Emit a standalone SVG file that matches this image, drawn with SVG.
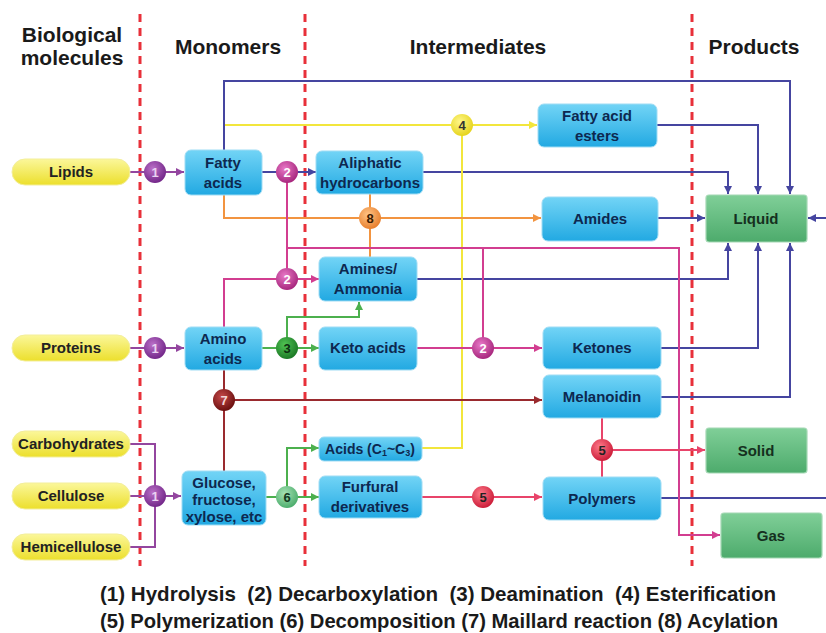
<svg xmlns="http://www.w3.org/2000/svg" width="826" height="633" viewBox="0 0 826 633">
<style>
.hdr{font-family:"Liberation Sans",Arial,sans-serif;font-weight:bold;font-size:21px;fill:#1a1a1a;text-anchor:middle}
.bt{font-family:"Liberation Sans",Arial,sans-serif;font-weight:bold;font-size:15px;fill:#0d2850;text-anchor:middle}
.pt{font-family:"Liberation Sans",Arial,sans-serif;font-weight:bold;font-size:15px;fill:#222;text-anchor:middle}
.gt{font-family:"Liberation Sans",Arial,sans-serif;font-weight:bold;font-size:15px;fill:#15301e;text-anchor:middle}
.ct{font-family:"Liberation Sans",Arial,sans-serif;font-weight:bold;font-size:13px;text-anchor:middle}
.leg{font-family:"Liberation Sans Narrow","Liberation Sans",Arial,sans-serif;font-weight:bold;font-size:21px;fill:#1a1a1a}
.box{fill:url(#gBlue);stroke:#9fdcf4;stroke-width:1}
.pill{fill:url(#gYel);stroke:#f3ee9a;stroke-width:1}
.gbox{fill:url(#gGrn);stroke:#a4d8b4;stroke-width:1.2}
.dash{stroke:#e8303a;stroke-width:3;stroke-dasharray:8,6;fill:none}
.ln{fill:none;stroke-width:2}
.pu{stroke:#93469f}.bl{stroke:#4545a0}.ye{stroke:#f2e63c}.or{stroke:#f29440}.pk{stroke:#d23e90}.gr{stroke:#4cb04e}.ma{stroke:#9a2a2e}.rd{stroke:#e8446a}
</style>
<defs>
<linearGradient id="gBlue" x1="0" y1="0" x2="0" y2="1"><stop offset="0" stop-color="#72d4f6"/><stop offset="1" stop-color="#22a9e2"/></linearGradient>
<linearGradient id="gYel" x1="0" y1="0" x2="0" y2="1"><stop offset="0" stop-color="#fbf79a"/><stop offset="1" stop-color="#ecdf2c"/></linearGradient>
<linearGradient id="gGrn" x1="0" y1="0" x2="0" y2="1"><stop offset="0" stop-color="#80cf98"/><stop offset="1" stop-color="#4dab6c"/></linearGradient>
<radialGradient id="c1" cx="0.4" cy="0.35" r="0.65"><stop offset="0" stop-color="#bb70c8"/><stop offset="1" stop-color="#74288a"/></radialGradient>
<radialGradient id="c2" cx="0.4" cy="0.35" r="0.65"><stop offset="0" stop-color="#e878c6"/><stop offset="1" stop-color="#a8287e"/></radialGradient>
<radialGradient id="c3" cx="0.4" cy="0.35" r="0.65"><stop offset="0" stop-color="#50c454"/><stop offset="1" stop-color="#1c7a26"/></radialGradient>
<radialGradient id="c4" cx="0.4" cy="0.35" r="0.65"><stop offset="0" stop-color="#fff78a"/><stop offset="1" stop-color="#e6d41e"/></radialGradient>
<radialGradient id="c5" cx="0.4" cy="0.35" r="0.65"><stop offset="0" stop-color="#ff7a8a"/><stop offset="1" stop-color="#cc1e3a"/></radialGradient>
<radialGradient id="c6" cx="0.4" cy="0.35" r="0.65"><stop offset="0" stop-color="#a6e2b4"/><stop offset="1" stop-color="#4eae6e"/></radialGradient>
<radialGradient id="c7" cx="0.4" cy="0.35" r="0.65"><stop offset="0" stop-color="#c44848"/><stop offset="1" stop-color="#6c1010"/></radialGradient>
<radialGradient id="c8" cx="0.4" cy="0.35" r="0.65"><stop offset="0" stop-color="#ffc486"/><stop offset="1" stop-color="#e8802e"/></radialGradient>
<marker id="aPu" viewBox="0 0 8 8" refX="8" refY="4" markerWidth="8" markerHeight="8" markerUnits="userSpaceOnUse" orient="auto"><path d="M0,0L8,4L0,8z" fill="#93469f"/></marker>
<marker id="aBl" viewBox="0 0 8 8" refX="8" refY="4" markerWidth="8" markerHeight="8" markerUnits="userSpaceOnUse" orient="auto"><path d="M0,0L8,4L0,8z" fill="#4545a0"/></marker>
<marker id="aYe" viewBox="0 0 8 8" refX="8" refY="4" markerWidth="8" markerHeight="8" markerUnits="userSpaceOnUse" orient="auto"><path d="M0,0L8,4L0,8z" fill="#f2e63c"/></marker>
<marker id="aOr" viewBox="0 0 8 8" refX="8" refY="4" markerWidth="8" markerHeight="8" markerUnits="userSpaceOnUse" orient="auto"><path d="M0,0L8,4L0,8z" fill="#f29440"/></marker>
<marker id="aPk" viewBox="0 0 8 8" refX="8" refY="4" markerWidth="8" markerHeight="8" markerUnits="userSpaceOnUse" orient="auto"><path d="M0,0L8,4L0,8z" fill="#d23e90"/></marker>
<marker id="aGr" viewBox="0 0 8 8" refX="8" refY="4" markerWidth="8" markerHeight="8" markerUnits="userSpaceOnUse" orient="auto"><path d="M0,0L8,4L0,8z" fill="#4cb04e"/></marker>
<marker id="aMa" viewBox="0 0 8 8" refX="8" refY="4" markerWidth="8" markerHeight="8" markerUnits="userSpaceOnUse" orient="auto"><path d="M0,0L8,4L0,8z" fill="#9a2a2e"/></marker>
<marker id="aRd" viewBox="0 0 8 8" refX="8" refY="4" markerWidth="8" markerHeight="8" markerUnits="userSpaceOnUse" orient="auto"><path d="M0,0L8,4L0,8z" fill="#e8446a"/></marker>
</defs>
<rect width="826" height="633" fill="#ffffff"/>

<g id="headers">
<text class="hdr" x="72" y="42">Biological</text>
<text class="hdr" x="72" y="65">molecules</text>
<text class="hdr" x="228" y="54">Monomers</text>
<text class="hdr" x="478" y="54">Intermediates</text>
<text class="hdr" x="754" y="54">Products</text>
</g>

<g id="dividers">
<line class="dash" x1="140" y1="14" x2="140" y2="566"/>
<line class="dash" x1="305" y1="14" x2="305" y2="566"/>
<line class="dash" x1="692" y1="14" x2="692" y2="566"/>
</g>

<g id="connectors">
<path class="ln pu" d="M130,172H184" marker-end="url(#aPu)"/>
<path class="ln pu" d="M130,348H184" marker-end="url(#aPu)"/>
<path class="ln pu" d="M130,496H181" marker-end="url(#aPu)"/>
<path class="ln pu" d="M130,444H155V547H130"/>
<path class="ln bl" d="M262,172H316" marker-end="url(#aBl)"/>
<path class="ln bl" d="M224,150V81H790V194" marker-end="url(#aBl)"/>
<path class="ln bl" d="M422,172H728V194" marker-end="url(#aBl)"/>
<path class="ln bl" d="M657,125H758V194" marker-end="url(#aBl)"/>
<path class="ln bl" d="M658,218H705" marker-end="url(#aBl)"/>
<path class="ln bl" d="M417,279H728V243" marker-end="url(#aBl)"/>
<path class="ln bl" d="M661,348H758V243" marker-end="url(#aBl)"/>
<path class="ln bl" d="M661,397H790V243" marker-end="url(#aBl)"/>
<path class="ln bl" d="M661,498H826"/>
<path class="ln bl" d="M826,218H808" marker-end="url(#aBl)"/>
<path class="ln ye" d="M225,125H537" marker-end="url(#aYe)"/>
<path class="ln ye" d="M422,448H462V125"/>
<path class="ln or" d="M224,195V218H541" marker-end="url(#aOr)"/>
<path class="ln or" d="M370,194V257"/>
<path class="ln pk" d="M287,172V279"/>
<path class="ln pk" d="M287,248H679V535H720" marker-end="url(#aPk)"/>
<path class="ln pk" d="M483,248V348"/>
<path class="ln pk" d="M224,327V279H319" marker-end="url(#aPk)"/>
<path class="ln pk" d="M417,348H542" marker-end="url(#aPk)"/>
<path class="ln gr" d="M262,348H319" marker-end="url(#aGr)"/>
<path class="ln gr" d="M287,348V317H359V302" marker-end="url(#aGr)"/>
<path class="ln gr" d="M265,497H319" marker-end="url(#aGr)"/>
<path class="ln gr" d="M287,497V448H319" marker-end="url(#aGr)"/>
<path class="ln ma" d="M224,370V471"/>
<path class="ln ma" d="M224,400H542" marker-end="url(#aMa)"/>
<path class="ln rd" d="M422,497H542" marker-end="url(#aRd)"/>
<path class="ln rd" d="M602,418V477"/>
<path class="ln rd" d="M602,450H705" marker-end="url(#aRd)"/>
</g>

<g id="lipids"><rect class="pill" x="12" y="159" width="118" height="26" rx="13"/><text class="pt" x="71" y="177">Lipids</text></g>
<g id="proteins"><rect class="pill" x="12" y="335" width="118" height="26" rx="13"/><text class="pt" x="71" y="353">Proteins</text></g>
<g id="carbohydrates"><rect class="pill" x="12" y="431" width="118" height="26" rx="13"/><text class="pt" x="71" y="449">Carbohydrates</text></g>
<g id="cellulose"><rect class="pill" x="12" y="483" width="118" height="26" rx="13"/><text class="pt" x="71" y="501">Cellulose</text></g>
<g id="hemicellulose"><rect class="pill" x="12" y="534" width="118" height="26" rx="13"/><text class="pt" x="71" y="552">Hemicellulose</text></g>

<g id="fatty-acids"><rect class="box" x="185" y="150" width="77" height="45" rx="6"/><text class="bt" x="223" y="168">Fatty</text><text class="bt" x="223" y="188">acids</text></g>
<g id="amino-acids"><rect class="box" x="185" y="327" width="77" height="43" rx="6"/><text class="bt" x="223" y="344">Amino</text><text class="bt" x="223" y="364">acids</text></g>
<g id="sugars"><rect class="box" x="182" y="471" width="84" height="54" rx="6"/><text class="bt" x="224" y="488">Glucose,</text><text class="bt" x="224" y="505">fructose,</text><text class="bt" x="224" y="522">xylose, etc</text></g>

<g id="aliphatic"><rect class="box" x="316" y="151" width="107" height="43" rx="6"/><text class="bt" x="370" y="168">Aliphatic</text><text class="bt" x="370" y="188">hydrocarbons</text></g>
<g id="amines"><rect class="box" x="319" y="257" width="98" height="44" rx="6"/><text class="bt" x="368" y="274">Amines/</text><text class="bt" x="368" y="294">Ammonia</text></g>
<g id="keto-acids"><rect class="box" x="319" y="327" width="98" height="43" rx="6"/><text class="bt" x="368" y="353">Keto acids</text></g>
<g id="acids-c1c3"><rect class="box" x="319" y="437" width="103" height="24" rx="5"/><text class="bt" x="370" y="454" style="font-size:14px">Acids (C<tspan style="font-size:9px" dy="2">1</tspan><tspan dy="-2">~C</tspan><tspan style="font-size:9px" dy="2">3</tspan><tspan dy="-2">)</tspan></text></g>
<g id="furfural"><rect class="box" x="319" y="476" width="103" height="42" rx="6"/><text class="bt" x="370" y="492">Furfural</text><text class="bt" x="370" y="512">derivatives</text></g>

<g id="fatty-acid-esters"><rect class="box" x="538" y="104" width="119" height="43" rx="6"/><text class="bt" x="597" y="121">Fatty acid</text><text class="bt" x="597" y="141">esters</text></g>
<g id="amides"><rect class="box" x="542" y="197" width="116" height="44" rx="6"/><text class="bt" x="600" y="224">Amides</text></g>
<g id="ketones"><rect class="box" x="543" y="327" width="118" height="42" rx="6"/><text class="bt" x="602" y="353">Ketones</text></g>
<g id="melanoidin"><rect class="box" x="543" y="375" width="118" height="43" rx="6"/><text class="bt" x="602" y="402">Melanoidin</text></g>
<g id="polymers"><rect class="box" x="543" y="477" width="118" height="43" rx="6"/><text class="bt" x="602" y="504">Polymers</text></g>

<g id="liquid"><rect class="gbox" x="706" y="195" width="101" height="47" rx="3"/><text class="gt" x="756" y="224">Liquid</text></g>
<g id="solid"><rect class="gbox" x="706" y="428" width="101" height="45" rx="3"/><text class="gt" x="756" y="456">Solid</text></g>
<g id="gas"><rect class="gbox" x="721" y="513" width="101" height="45" rx="3"/><text class="gt" x="771" y="541">Gas</text></g>

<g id="reactions">
<g><circle cx="155" cy="172" r="11" fill="url(#c1)"/><text class="ct" x="155" y="177" fill="#ead2f2">1</text></g>
<g><circle cx="155" cy="348" r="11" fill="url(#c1)"/><text class="ct" x="155" y="353" fill="#ead2f2">1</text></g>
<g><circle cx="155" cy="496" r="11" fill="url(#c1)"/><text class="ct" x="155" y="501" fill="#ead2f2">1</text></g>
<g><circle cx="287" cy="172" r="11" fill="url(#c2)"/><text class="ct" x="287" y="177" fill="#ffffff">2</text></g>
<g><circle cx="287" cy="279" r="11" fill="url(#c2)"/><text class="ct" x="287" y="284" fill="#ffffff">2</text></g>
<g><circle cx="483" cy="348" r="11" fill="url(#c2)"/><text class="ct" x="483" y="353" fill="#ffffff">2</text></g>
<g><circle cx="287" cy="348" r="11" fill="url(#c3)"/><text class="ct" x="287" y="353" fill="#0c3010">3</text></g>
<g><circle cx="462" cy="125" r="11" fill="url(#c4)"/><text class="ct" x="462" y="130" fill="#333">4</text></g>
<g><circle cx="483" cy="497" r="11" fill="url(#c5)"/><text class="ct" x="483" y="502" fill="#222">5</text></g>
<g><circle cx="602" cy="450" r="11" fill="url(#c5)"/><text class="ct" x="602" y="455" fill="#222">5</text></g>
<g><circle cx="287" cy="497" r="11" fill="url(#c6)"/><text class="ct" x="287" y="502" fill="#123a1e">6</text></g>
<g><circle cx="224" cy="400" r="11" fill="url(#c7)"/><text class="ct" x="224" y="405" fill="#f2d6d6">7</text></g>
<g><circle cx="370" cy="218" r="11" fill="url(#c8)"/><text class="ct" x="370" y="223" fill="#3a1a00">8</text></g>
</g>

<g id="legend">
<text class="leg" x="100" y="601" textLength="676" lengthAdjust="spacingAndGlyphs" xml:space="preserve">(1) Hydrolysis  (2) Decarboxylation  (3) Deamination  (4) Esterification</text>
<text class="leg" x="100" y="628" textLength="678" lengthAdjust="spacingAndGlyphs">(5) Polymerization (6) Decomposition (7) Maillard reaction (8) Acylation</text>
</g>
</svg>
